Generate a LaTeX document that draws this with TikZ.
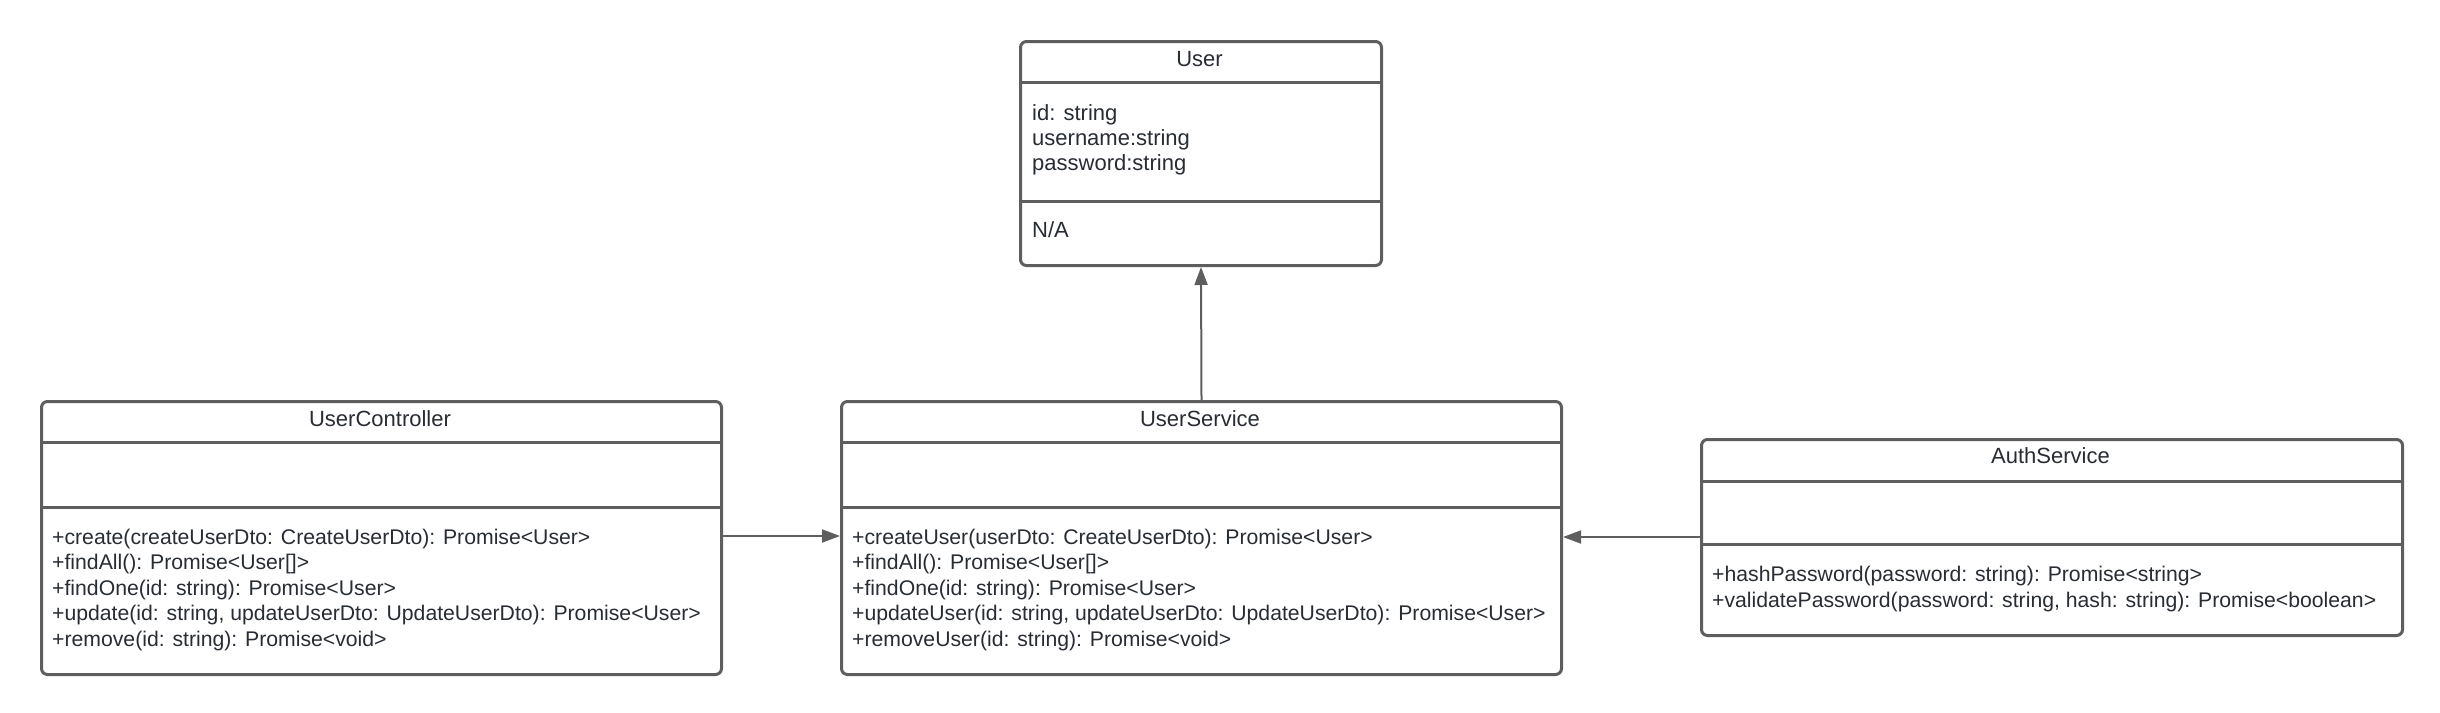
\documentclass[tikz,border=0pt]{standalone}
\usepackage{fontspec}
\setmainfont{Liberation Sans}
\usetikzlibrary{arrows.meta,calc}
\definecolor{lc}{HTML}{5E5E5E}
\definecolor{tc}{HTML}{282C33}
\begin{document}
\begin{tikzpicture}[x=1pt,y=-1pt,
  classbox/.style={draw=lc, line width=3pt, rounded corners=6pt, fill=white, anchor=north west, inner sep=0pt},
  sepline/.style={draw=lc, line width=3pt},
  txt/.style={font=\fontsize{21.2}{25.6}\selectfont, text=tc, inner sep=0pt, anchor=base west},
  atxt/.style={font=\fontsize{22}{25}\selectfont, text=tc, inner sep=0pt, anchor=base west},
  ttl/.style={font=\fontsize{22}{25.6}\selectfont, text=tc, inner sep=0pt, anchor=base},
  conn/.style={draw=lc, line width=2pt, -{Triangle[length=18pt,width=13pt]}}]
\useasboundingbox (0,0) rectangle (2440,712);

% User
\node[classbox, minimum width=361pt, minimum height=224pt] (user) at (1019,40) {};
\draw[sepline] (1019,82) -- (1380,82);
\draw[sepline] (1019,201) -- (1380,201);
\node[ttl] (usert) at (1199.5,66) {User};
\node[atxt] (usera1) at (1032,120.5) {id: string};
\node[atxt] (usera2) at (1032,145.5) {username:string};
\node[atxt] (usera3) at (1032,170.5) {password:string};
\node[atxt] (userm1) at (1032,237) {N/A};

% UserController
\node[classbox, minimum width=680pt, minimum height=273pt] (uc) at (40,400) {};
\draw[sepline] (40,442) -- (720,442);
\draw[sepline] (40,507) -- (720,507);
\node[ttl] (uct) at (380,426) {UserController};
\node[txt] (ucm1) at (52,544) {+create(createUserDto: CreateUserDto): Promise<User>};
\node[txt] (ucm2) at (52,569.6) {+findAll(): Promise<User[]>};
\node[txt] (ucm3) at (52,595.2) {+findOne(id: string): Promise<User>};
\node[txt] (ucm4) at (52,620.8) {+update(id: string, updateUserDto: UpdateUserDto): Promise<User>};
\node[txt] (ucm5) at (52,646.4) {+remove(id: string): Promise<void>};

% UserService
\node[classbox, minimum width=720pt, minimum height=273pt] (us) at (840,400) {};
\draw[sepline] (840,442) -- (1560,442);
\draw[sepline] (840,507) -- (1560,507);
\node[ttl] (ust) at (1200,426) {UserService};
\node[txt] (usm1) at (852,544) {+createUser(userDto: CreateUserDto): Promise<User>};
\node[txt] (usm2) at (852,569.6) {+findAll(): Promise<User[]>};
\node[txt] (usm3) at (852,595.2) {+findOne(id: string): Promise<User>};
\node[txt] (usm4) at (852,620.8) {+updateUser(id: string, updateUserDto: UpdateUserDto): Promise<User>};
\node[txt] (usm5) at (852,646.4) {+removeUser(id: string): Promise<void>};

% AuthService
\node[classbox, minimum width=701pt, minimum height=196pt] (auth) at (1700,438) {};
\draw[sepline] (1700,481) -- (2401,481);
\draw[sepline] (1700,544) -- (2401,544);
\node[ttl] (autht) at (2050.5,463) {AuthService};
\node[txt] (authm1) at (1712,581) {+hashPassword(password: string): Promise<string>};
\node[txt] (authm2) at (1712,607) {+validatePassword(password: string, hash: string): Promise<boolean>};

% connectors
\coordinate (a1) at (0,536);
\coordinate (a2) at (0,537);
\draw[conn] (us.north) -- (user.south);
\draw[conn] (uc.east |- a1) -- (us.west |- a1);
\draw[conn] (auth.west |- a2) -- (us.east |- a2);
\end{tikzpicture}
\end{document}
